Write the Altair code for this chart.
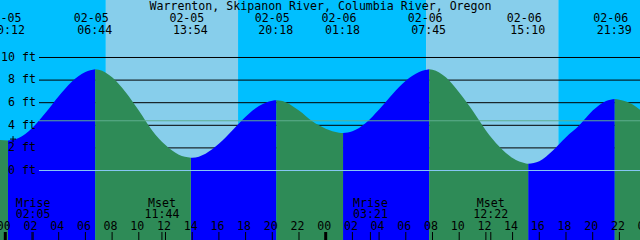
import altair as alt
import pandas as pd

# ---------------- data ----------------
title_text = "Warrenton, Skipanon River, Columbia River, Oregon"

# tide extremes (low, high, low, ...)
event_date = ["02-05", "02-05", "02-05", "02-05", "02-06", "02-06", "02-06", "02-06"]
event_time = ["00:12", "06:44", "13:54", "20:18", "01:18", "07:45", "15:10", "21:39"]
event_ft = [2.66, 8.96, 1.13, 6.21, 3.31, 8.96, 0.59, 6.33]

# tide level, hours since 02-05 00:00
sample_h = [-0.6, 1, 2, 3, 4, 5, 6, 7, 8, 9, 10, 11, 12, 13, 14, 15, 16, 17, 18, 19,
            20, 21, 22, 23, 24, 25, 26, 27, 28, 29, 30, 31, 32, 33, 34, 35, 36, 37, 38,
            39, 40, 41, 42, 43, 44, 45, 46, 47, 47.6]
sample_ft = [2.72, 2.88, 3.75, 5.08, 6.57, 7.87, 8.71, 8.92, 8.25, 6.95, 5.30, 3.55, 2.25,
             1.40, 1.13, 1.49, 2.36, 3.55, 4.76, 5.71, 6.18, 6.05, 5.30, 4.35, 3.70, 3.35,
             3.47, 4.21, 5.40, 6.75, 7.94, 8.71, 8.92, 8.25, 6.90, 5.30, 3.55, 2.12, 1.10,
             0.62, 0.82, 1.75, 2.95, 4.00, 5.30, 6.15, 6.27, 5.85, 5.33]

moon_label = ["Mrise", "Mset", "Mrise", "Mset"]
moon_date = ["02-05", "02-05", "02-06", "02-06"]
moon_time = ["02:05", "11:44", "03:21", "12:22"]

sun_date = ["02-05", "02-05", "02-06", "02-06"]
sun_time = ["07:32", "17:26", "07:31", "17:25"]   # rise, set, rise, set

grid_ft = [2, 4, 6, 8, 10]
label_ft = [10, 8, 6, 4, 2, 0]
datum_ft = [0]
msl_ft = [4.4]
hour_ticks = list(range(0, 49, 2))
midnight_ticks = [0, 24]
now_h = [0.58]
now_ft = [2.78]

DAY_INDEX = {"02-05": 0, "02-06": 1}


def to_hours(d, t):
    hh, mm = t.split(":")
    return DAY_INDEX[d] * 24 + int(hh) + int(mm) / 60.0


# ---------------- tables ----------------
ev_h = [to_hours(d, t) for d, t in zip(event_date, event_time)]
events = pd.DataFrame({"h": ev_h, "date": event_date, "time": event_time})

rows = []
n = len(ev_h)
for i in range(n + 1):
    lo = ev_h[i - 1] if i > 0 else -1e9
    hi = ev_h[i] if i < n else 1e9
    phase = "flood" if i % 2 == 1 else "ebb"
    if i > 0:
        rows.append({"h": ev_h[i - 1], "ft": event_ft[i - 1], "seg": i, "phase": phase})
    for h, f in zip(sample_h, sample_ft):
        if lo < h < hi:
            rows.append({"h": h, "ft": f, "seg": i, "phase": phase})
    if i < n:
        rows.append({"h": ev_h[i], "ft": event_ft[i], "seg": i, "phase": phase})
tide = pd.DataFrame(rows)

sun_h = [to_hours(d, t) for d, t in zip(sun_date, sun_time)]
day_df = pd.DataFrame({"start": sun_h[0::2], "end": sun_h[1::2]})
night_df = pd.DataFrame({"start": [-2] + sun_h[1::2], "end": sun_h[0::2] + [50]})

moon = pd.DataFrame({"h": [to_hours(d, t) for d, t in zip(moon_date, moon_time)],
                     "label": moon_label, "time": moon_time})
hours = pd.DataFrame({"h": hour_ticks, "txt": [f"{h % 24:02d}" for h in hour_ticks]})
mid = pd.DataFrame({"h": midnight_ticks})
grid = pd.DataFrame({"ft": grid_ft})
ylab = pd.DataFrame({"ft": label_ft, "txt": [f"{v} ft" for v in label_ft]})
datum = pd.DataFrame({"ft": datum_ft})
msl = pd.DataFrame({"ft": msl_ft})
now = pd.DataFrame({"h": now_h, "ft": now_ft})
title_df = pd.DataFrame({"t": [title_text]})

# ---------------- scales / styles ----------------
XS = alt.Scale(domain=[-0.397, 47.544], nice=False, zero=False)
YS = alt.Scale(domain=[-6.150, 15.088], nice=False, zero=False)
FONT = "DejaVu Sans Mono"
FS = 11.6
NIGHT = "#00BFFF"
DAY = "#87CEEB"
FLOOD = "#0000FF"
EBB = "#2E8B57"


def X(f="h"):
    return alt.X(f"{f}:Q", scale=XS, axis=None)


def Y(f="ft"):
    return alt.Y(f"{f}:Q", scale=YS, axis=None)


night = alt.Chart(night_df).mark_rect(color=NIGHT).encode(
    x=X("start"), x2="end:Q", y=alt.value(0), y2=alt.value(240))
day = alt.Chart(day_df).mark_rect(color=DAY).encode(
    x=X("start"), x2="end:Q", y=alt.value(0), y2=alt.value(240))

grid_lines = alt.Chart(grid).mark_rule(color="black", strokeWidth=1).encode(
    y=Y(), x=alt.value(39), x2=alt.value(640))

flood = alt.Chart(tide).transform_filter(alt.datum.phase == "flood").mark_area(
    color=FLOOD, interpolate="monotone").encode(
    x=X(), y=alt.Y("ft:Q", scale=YS, axis=None, stack=False), y2=alt.value(240),
    detail="seg:N")
ebb = alt.Chart(tide).transform_filter(alt.datum.phase == "ebb").mark_area(
    color=EBB, interpolate="monotone").encode(
    x=X(), y=alt.Y("ft:Q", scale=YS, axis=None, stack=False), y2=alt.value(240),
    detail="seg:N")

datum_line = alt.Chart(datum).mark_rule(color="#86C6F4", strokeWidth=1).encode(
    y=Y(), x=alt.value(39), x2=alt.value(640))
msl_line = alt.Chart(msl).mark_rule(color="#5FAE8E", strokeWidth=1).encode(
    y=Y(), x=alt.value(39), x2=alt.value(640))

ylabels = alt.Chart(ylab).mark_text(font=FONT, fontSize=FS, align="right",
                                    baseline="alphabetic", dy=3.4, color="black").encode(
    y=Y(), x=alt.value(36), text="txt:N")

now_mark = alt.Chart(now).mark_point(shape="M-1,0L1,0M0,-1L0,1", size=36, filled=False,
                                     color="black", strokeWidth=1, opacity=1).encode(
    x=X(), y=Y())

title = alt.Chart(title_df).mark_text(font=FONT, fontSize=FS, align="center",
                                      baseline="alphabetic", color="black").encode(
    x=alt.value(320.5), y=alt.value(9.8), text="t:N")

ev_date = alt.Chart(events).mark_text(font=FONT, fontSize=FS, align="center",
                                      baseline="alphabetic", dx=-4, color="black").encode(
    x=X(), y=alt.value(21.7), text="date:N")
ev_time = alt.Chart(events).mark_text(font=FONT, fontSize=FS, align="center",
                                      baseline="alphabetic", dx=-0.5, color="black").encode(
    x=X(), y=alt.value(34.3), text="time:N")

moon_lab = alt.Chart(moon).mark_text(font=FONT, fontSize=FS, align="center",
                                     baseline="alphabetic", color="black").encode(
    x=X(), y=alt.value(206.7), text="label:N")
moon_tim = alt.Chart(moon).mark_text(font=FONT, fontSize=FS, align="center",
                                     baseline="alphabetic", color="black").encode(
    x=X(), y=alt.value(217.7), text="time:N")

hour_tick = alt.Chart(hours).mark_rule(color="black", strokeWidth=1).encode(
    x=X(), y=alt.value(232), y2=alt.value(240))
mid_tick = alt.Chart(mid).mark_rule(color="black", strokeWidth=3).encode(
    x=X(), y=alt.value(232), y2=alt.value(240))
moon_tick = alt.Chart(moon).mark_rule(color="black", strokeWidth=1).encode(
    x=X(), y=alt.value(232), y2=alt.value(240))
hour_lab = alt.Chart(hours).mark_text(font=FONT, fontSize=FS, align="center",
                                      baseline="alphabetic", dx=-1.5, color="black").encode(
    x=X(), y=alt.value(230), text="txt:N")

chart = alt.layer(
    night, day, grid_lines, flood, ebb, datum_line, msl_line, ylabels, now_mark,
    title, ev_date, ev_time, moon_lab, moon_tim, hour_tick, mid_tick, moon_tick, hour_lab
).properties(
    width=640, height=240, padding=0, autosize=alt.AutoSizeParams(type="none")
).configure_view(strokeWidth=0)

chart.save("out.html", embed_options={"renderer": "svg", "actions": False})
